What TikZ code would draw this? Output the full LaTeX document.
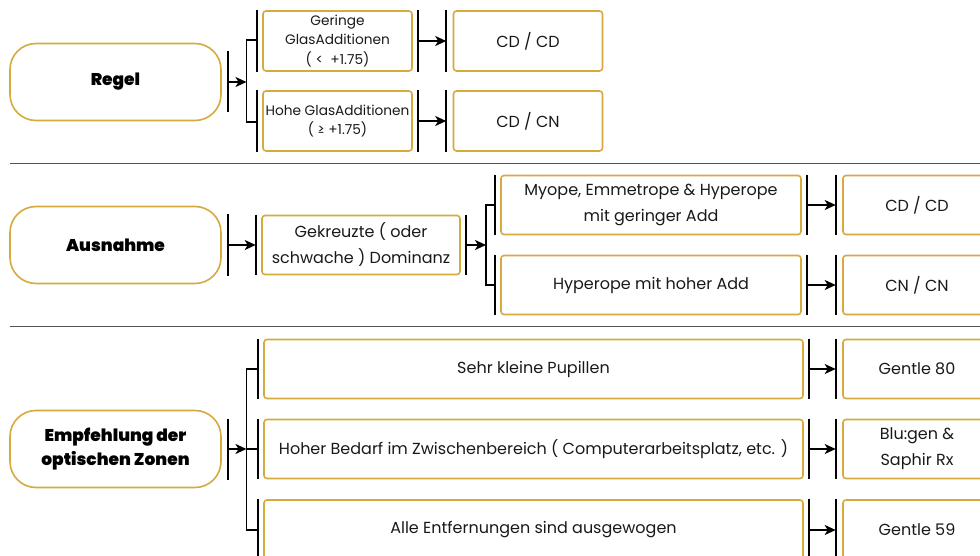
\documentclass[tikz,border=0pt]{standalone}
\usepackage{fontspec}
\setmainfont{Poppins}
\newfontfamily\headfont{Poppins Black}
\usetikzlibrary{arrows.meta,calc}
\definecolor{goldline}{RGB}{214,170,62}
\definecolor{rulegray}{RGB}{85,85,85}
\definecolor{inkcolor}{RGB}{25,25,25}

\begin{document}
\begin{tikzpicture}[
  x=1pt, y=-1pt,
  head/.style={draw=goldline, line width=1.6pt, rounded corners=26pt,
    minimum width=211pt, minimum height=77pt, align=center, text=black,
    font=\fontsize{17}{24}\selectfont\headfont},
  cell/.style={draw=goldline, line width=1.6pt, rounded corners=3pt,
    minimum height=59pt, inner sep=0pt, align=center, text=inkcolor,
    font=\fontsize{16}{26}\selectfont},
  small/.style={font=\fontsize{13.7}{19.5}\selectfont},
  gate/.style={line width=1.8pt},
  tree/.style={line width=1.7pt},
  link/.style={line width=1.8pt, -{Stealth[length=11pt,width=10pt,inset=3pt]}},
  divider/.style={rulegray, line width=1.1pt}
]

\useasboundingbox (0,0) rectangle (980,556);
\clip (0,0) rectangle (980,556);

% ---- Regel ----
\node[head] (regel) at (115.5,82) {Regel};
\node[cell, small, minimum width=149pt, minimum height=60pt] (geringe) at (337.5,41) {Geringe\\GlasAdditionen\\( <\ \ +1.75)};
\node[cell, small, minimum width=149pt, minimum height=60pt] (hohe) at (337.5,121) {Hohe GlasAdditionen\\( ≥ +1.75)};
\node[cell, minimum width=149pt, minimum height=60pt] (cdcdA) at (528,41) {CD / CD};
\node[cell, minimum width=149pt, minimum height=60pt] (cdcn) at (528,121) {CD / CN};

% ---- Ausnahme ----
\node[head] (ausnahme) at (115.5,245) {Ausnahme};
\node[cell, minimum width=198pt] (gekreuzt) at (361,245) {Gekreuzte ( oder\\schwache ) Dominanz};
\node[cell, minimum width=300pt] (myope) at (651,205) {Myope, Emmetrope \& Hyperope\\mit geringer Add};
\node[cell, minimum width=300pt] (hyperope) at (651,285) {Hyperope mit hoher Add};
\node[cell, minimum width=148pt] (cdcdB) at (917,205) {CD / CD};
\node[cell, minimum width=148pt] (cncn) at (917,285) {CN / CN};

% ---- Empfehlung ----
\node[head] (empf) at (115.5,449) {Empfehlung der\\optischen Zonen};
\node[cell, minimum width=539pt] (pupillen) at (533.5,369) {Sehr kleine Pupillen};
\node[cell, minimum width=539pt] (bedarf) at (533.5,449) {Hoher Bedarf im Zwischenbereich ( Computerarbeitsplatz, etc. )};
\node[cell, minimum width=539pt, minimum height=60pt] (alle) at (533.5,530) {Alle Entfernungen sind ausgewogen};
\node[cell, minimum width=148pt] (gentleA) at (917,369) {Gentle 80};
\node[cell, minimum width=148pt] (blugen) at (917,449) {Blu:gen \&\\Saphir Rx};
\node[cell, minimum width=148pt, minimum height=60pt] (gentleB) at (917,530) {Gentle 59};

% ---- Dividers ----
\draw[divider] (10,163.5) -- (985,163.5);
\draw[divider] (10,326.5) -- (985,326.5);

% ---- Bars behind the heads ----
\foreach \h in {regel,ausnahme,empf} {
  \coordinate (bar-\h) at ([xshift=6pt]\h.east);
  \draw[gate] ([yshift=30.5pt]bar-\h) -- ([yshift=-30.5pt]bar-\h);
}

% ---- Bars beside the boxes ----
\foreach \n in {geringe,hohe,gekreuzt,myope,hyperope,pupillen,bedarf,alle} {
  \coordinate (in-\n) at ([xshift=-5.5pt]\n.west);
  \coordinate (out-\n) at ([xshift=5pt]\n.east);
  \draw[gate] ([xshift=-5.5pt]\n.north west) -- ([xshift=-5.5pt]\n.south west);
  \draw[gate] ([xshift=5pt]\n.north east) -- ([xshift=5pt]\n.south east);
}
\foreach \n in {cdcdA,cdcn,cdcdB,cncn,gentleA,blugen,gentleB} {
  \coordinate (in-\n) at ([xshift=-6.5pt]\n.west);
  \draw[gate] ([xshift=-6.5pt]\n.north west) -- ([xshift=-6.5pt]\n.south west);
}

% ---- Forks ----
\coordinate (regelfork) at (246.5,82);
\coordinate (gekreuztfork) at (486,245);
\coordinate (empffork) at (246.5,449);

\draw[link] (bar-regel) -- (regelfork);
\draw[tree] ([yshift=1pt]in-geringe) -| (regelfork) |- ([yshift=-1pt]in-hohe);

\draw[link] (bar-ausnahme) -- (in-gekreuzt);
\draw[link] (out-gekreuzt) -- (gekreuztfork);
\draw[tree] (in-myope) -| (gekreuztfork) |- (in-hyperope);

\draw[link] (bar-empf) -- (empffork);
\draw[tree] (in-pupillen) -| (empffork) |- (in-alle);
\draw[tree] (empffork) -- (in-bedarf);

% ---- Results ----
\foreach \a/\b in {geringe/cdcdA,hohe/cdcn,myope/cdcdB,hyperope/cncn,pupillen/gentleA,bedarf/blugen,alle/gentleB} {
  \draw[link] (out-\a) -- (in-\b);
}

\end{tikzpicture}
\end{document}
